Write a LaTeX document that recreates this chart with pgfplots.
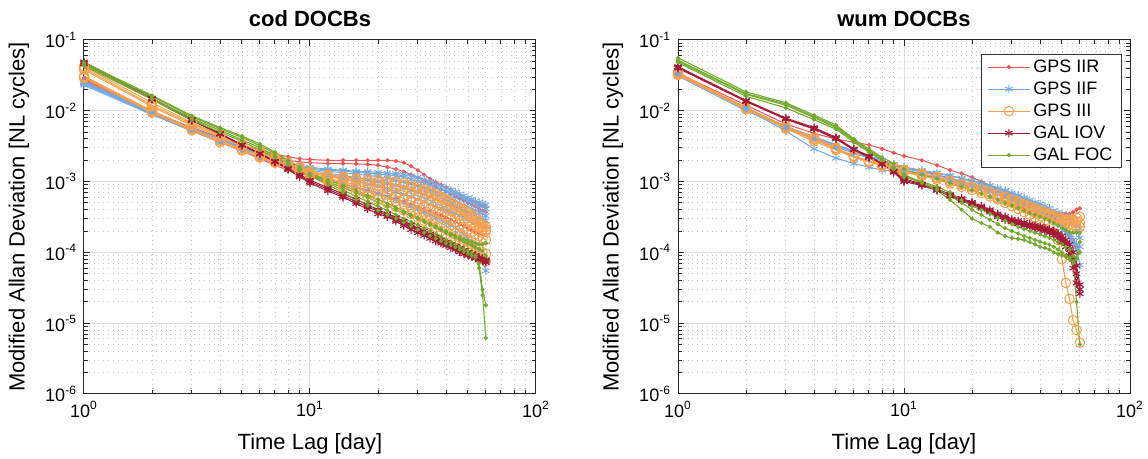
\documentclass[border=0pt]{standalone}
\usepackage{fontspec}
\setmainfont{Liberation Sans}
\usepackage{pgfplots}
\usepackage{pgfplotstable}
\pgfplotsset{compat=1.18}

\definecolor{cIIR}{RGB}{240,85,85}
\definecolor{cIIF}{RGB}{115,170,225}
\definecolor{cIII}{RGB}{250,160,75}
\definecolor{cIOV}{RGB}{165,25,55}
\definecolor{cFOC}{RGB}{115,170,45}

% ---------------- cod DOCBs ----------------
\pgfplotstableread{
x a b c
1 2.9e-2 2.8e-2 2.7e-2
2 9.8e-3 9.5e-3 9.0e-3
3 5.8e-3 5.6e-3 5.2e-3
4 4.2e-3 4.0e-3 3.6e-3
5 3.3e-3 3.1e-3 2.7e-3
6 2.8e-3 2.6e-3 2.1e-3
7 2.45e-3 2.25e-3 1.7e-3
8 2.25e-3 2.0e-3 1.45e-3
9 2.1e-3 1.9e-3 1.3e-3
10 2.05e-3 1.85e-3 1.2e-3
12 2.0e-3 1.8e-3 1.05e-3
14 2.0e-3 1.8e-3 9.3e-4
16 2.0e-3 1.78e-3 8.3e-4
18 2.0e-3 1.75e-3 7.5e-4
20 2.0e-3 1.7e-3 6.8e-4
22 2.0e-3 1.6e-3 6.2e-4
24 1.95e-3 1.5e-3 5.7e-4
26 1.85e-3 1.38e-3 5.2e-4
28 1.65e-3 1.25e-3 4.8e-4
30 1.45e-3 1.13e-3 4.4e-4
32 1.25e-3 1.02e-3 4.1e-4
34 1.1e-3 9.3e-4 3.8e-4
36 9.8e-4 8.5e-4 3.5e-4
38 9.0e-4 7.8e-4 3.3e-4
40 8.3e-4 7.2e-4 3.1e-4
42 7.7e-4 6.7e-4 2.9e-4
44 7.1e-4 6.2e-4 2.7e-4
46 6.6e-4 5.8e-4 2.5e-4
48 6.1e-4 5.4e-4 2.35e-4
50 5.7e-4 5.0e-4 2.2e-4
52 5.3e-4 4.7e-4 2.05e-4
54 5.0e-4 4.4e-4 1.95e-4
56 4.7e-4 4.1e-4 1.85e-4
58 4.5e-4 3.9e-4 1.8e-4
60 4.3e-4 3.7e-4 1.75e-4
}\codIIR

\pgfplotstableread{
x a b c d e f
1 2.5e-2 2.4e-2 2.6e-2 2.3e-2 2.45e-2 2.55e-2
2 9.3e-3 9.0e-3 9.6e-3 8.8e-3 9.1e-3 9.4e-3
3 5.6e-3 5.4e-3 5.7e-3 5.2e-3 5.5e-3 5.6e-3
4 4.0e-3 3.8e-3 4.0e-3 3.6e-3 3.9e-3 3.9e-3
5 3.1e-3 2.9e-3 3.0e-3 2.7e-3 3.0e-3 3.0e-3
6 2.5e-3 2.35e-3 2.4e-3 2.15e-3 2.45e-3 2.4e-3
7 2.1e-3 2.0e-3 2.0e-3 1.8e-3 2.05e-3 2.0e-3
8 1.85e-3 1.75e-3 1.7e-3 1.55e-3 1.8e-3 1.75e-3
9 1.7e-3 1.6e-3 1.5e-3 1.38e-3 1.65e-3 1.6e-3
10 1.6e-3 1.5e-3 1.38e-3 1.25e-3 1.55e-3 1.45e-3
12 1.5e-3 1.4e-3 1.22e-3 1.08e-3 1.45e-3 1.32e-3
14 1.45e-3 1.33e-3 1.1e-3 9.5e-4 1.4e-3 1.22e-3
16 1.4e-3 1.28e-3 1.0e-3 8.4e-4 1.36e-3 1.14e-3
18 1.38e-3 1.22e-3 9.2e-4 7.5e-4 1.32e-3 1.07e-3
20 1.35e-3 1.17e-3 8.5e-4 6.8e-4 1.28e-3 1.0e-3
22 1.32e-3 1.12e-3 7.8e-4 6.1e-4 1.24e-3 9.4e-4
24 1.3e-3 1.06e-3 7.2e-4 5.5e-4 1.2e-3 8.8e-4
26 1.26e-3 1.0e-3 6.6e-4 5.0e-4 1.15e-3 8.2e-4
28 1.2e-3 9.4e-4 6.1e-4 4.5e-4 1.08e-3 7.6e-4
30 1.15e-3 8.8e-4 5.6e-4 4.1e-4 1.01e-3 7.1e-4
32 1.08e-3 8.2e-4 5.2e-4 3.7e-4 9.5e-4 6.6e-4
34 1.0e-3 7.6e-4 4.8e-4 3.4e-4 8.9e-4 6.1e-4
36 9.3e-4 7.1e-4 4.5e-4 3.1e-4 8.3e-4 5.7e-4
38 8.7e-4 6.6e-4 4.2e-4 2.85e-4 7.8e-4 5.3e-4
40 8.1e-4 6.1e-4 3.9e-4 2.6e-4 7.3e-4 5.0e-4
42 7.6e-4 5.7e-4 3.7e-4 2.4e-4 6.9e-4 4.7e-4
44 7.1e-4 5.3e-4 3.5e-4 2.2e-4 6.5e-4 4.4e-4
46 6.7e-4 5.0e-4 3.3e-4 2.0e-4 6.1e-4 4.1e-4
48 6.3e-4 4.7e-4 3.1e-4 1.8e-4 5.8e-4 3.9e-4
50 5.9e-4 4.4e-4 2.95e-4 1.6e-4 5.5e-4 3.7e-4
52 5.6e-4 4.1e-4 2.8e-4 1.4e-4 5.2e-4 3.5e-4
54 5.3e-4 3.9e-4 2.65e-4 1.2e-4 4.9e-4 3.3e-4
56 5.1e-4 3.7e-4 2.5e-4 1.0e-4 4.6e-4 3.1e-4
58 4.9e-4 3.5e-4 2.4e-4 7.5e-5 4.4e-4 2.95e-4
60 4.7e-4 3.3e-4 2.3e-4 5.5e-5 4.1e-4 2.8e-4
}\codIIF

\pgfplotstableread{
x a b c d e f
1 4.0e-2 3.0e-2 3.1e-2 4.2e-2 3.8e-2 2.9e-2
2 1.2e-2 9.6e-3 1.0e-2 1.3e-2 1.15e-2 9.4e-3
3 6.5e-3 5.4e-3 5.6e-3 6.8e-3 6.2e-3 5.3e-3
4 4.5e-3 3.6e-3 3.8e-3 4.6e-3 4.3e-3 3.6e-3
5 3.4e-3 2.8e-3 2.9e-3 3.3e-3 3.2e-3 2.75e-3
6 2.7e-3 2.2e-3 2.3e-3 2.5e-3 2.55e-3 2.2e-3
7 2.2e-3 1.85e-3 1.9e-3 2.0e-3 2.1e-3 1.85e-3
8 1.85e-3 1.6e-3 1.6e-3 1.65e-3 1.8e-3 1.6e-3
9 1.6e-3 1.45e-3 1.4e-3 1.4e-3 1.55e-3 1.42e-3
10 1.4e-3 1.32e-3 1.25e-3 1.2e-3 1.38e-3 1.3e-3
12 1.25e-3 1.18e-3 1.05e-3 9.8e-4 1.22e-3 1.12e-3
14 1.18e-3 1.08e-3 9.2e-4 8.3e-4 1.13e-3 1.0e-3
16 1.12e-3 1.0e-3 8.1e-4 7.1e-4 1.07e-3 9.0e-4
18 1.08e-3 9.4e-4 7.2e-4 6.2e-4 1.02e-3 8.2e-4
20 1.05e-3 8.8e-4 6.5e-4 5.5e-4 9.8e-4 7.5e-4
22 1.03e-3 8.3e-4 5.9e-4 4.9e-4 9.5e-4 6.9e-4
24 1.0e-3 7.8e-4 5.3e-4 4.4e-4 9.2e-4 6.3e-4
26 9.6e-4 7.3e-4 4.8e-4 3.9e-4 8.8e-4 5.8e-4
28 9.1e-4 6.8e-4 4.3e-4 3.5e-4 8.3e-4 5.3e-4
30 8.5e-4 6.3e-4 3.9e-4 3.1e-4 7.8e-4 4.9e-4
32 7.9e-4 5.8e-4 3.5e-4 2.8e-4 7.3e-4 4.5e-4
34 7.3e-4 5.4e-4 3.2e-4 2.5e-4 6.8e-4 4.1e-4
36 6.7e-4 5.0e-4 2.9e-4 2.25e-4 6.3e-4 3.8e-4
38 6.1e-4 4.6e-4 2.6e-4 2.0e-4 5.8e-4 3.5e-4
40 5.6e-4 4.2e-4 2.35e-4 1.8e-4 5.4e-4 3.2e-4
42 5.1e-4 3.9e-4 2.1e-4 1.65e-4 5.0e-4 2.95e-4
44 4.6e-4 3.6e-4 1.9e-4 1.5e-4 4.6e-4 2.7e-4
46 4.2e-4 3.3e-4 1.75e-4 1.38e-4 4.3e-4 2.5e-4
48 3.8e-4 3.0e-4 1.6e-4 1.27e-4 4.0e-4 2.3e-4
50 3.4e-4 2.8e-4 1.45e-4 1.18e-4 3.7e-4 2.1e-4
52 3.1e-4 2.6e-4 1.3e-4 1.1e-4 3.4e-4 1.95e-4
54 2.8e-4 2.4e-4 1.2e-4 1.02e-4 3.1e-4 1.8e-4
56 2.5e-4 2.25e-4 1.1e-4 9.5e-5 2.8e-4 1.7e-4
58 2.3e-4 2.1e-4 1.0e-4 8.5e-5 2.5e-4 1.6e-4
60 2.1e-4 2.0e-4 9.5e-5 7.5e-5 2.3e-4 1.5e-4
}\codIII

\pgfplotstableread{
x a b c
1 4.9e-2 4.6e-2 4.7e-2
2 1.51e-2 1.45e-2 1.48e-2
3 7.6e-3 7.3e-3 7.4e-3
4 4.8e-3 4.7e-3 4.7e-3
5 3.3e-3 3.3e-3 3.25e-3
6 2.5e-3 2.5e-3 2.45e-3
7 1.9e-3 1.95e-3 1.9e-3
8 1.48e-3 1.55e-3 1.5e-3
9 1.17e-3 1.25e-3 1.2e-3
10 9.5e-4 1.05e-3 1.0e-3
12 7.4e-4 8.2e-4 7.8e-4
14 6.0e-4 6.7e-4 6.3e-4
16 4.9e-4 5.6e-4 5.2e-4
18 4.1e-4 4.7e-4 4.4e-4
20 3.5e-4 4.0e-4 3.8e-4
22 3.2e-4 3.5e-4 3.3e-4
24 2.75e-4 3.1e-4 2.9e-4
26 2.4e-4 2.75e-4 2.55e-4
28 2.1e-4 2.45e-4 2.3e-4
30 1.9e-4 2.2e-4 2.05e-4
32 1.74e-4 2.0e-4 1.85e-4
34 1.58e-4 1.8e-4 1.7e-4
36 1.45e-4 1.65e-4 1.55e-4
38 1.35e-4 1.5e-4 1.42e-4
40 1.26e-4 1.4e-4 1.32e-4
42 1.17e-4 1.3e-4 1.23e-4
44 1.1e-4 1.22e-4 1.15e-4
46 1.02e-4 1.14e-4 1.08e-4
48 9.5e-5 1.07e-4 1.01e-4
50 9.1e-5 1.0e-4 9.5e-5
52 8.7e-5 9.5e-5 9.0e-5
54 8.3e-5 9.0e-5 8.6e-5
56 7.9e-5 8.5e-5 8.2e-5
58 7.6e-5 8.2e-5 7.9e-5
60 7.2e-5 7.8e-5 7.5e-5
}\codIOV

\pgfplotstableread{
x a b c d
1 4.8e-2 4.5e-2 4.3e-2 4.6e-2
2 1.65e-2 1.5e-2 1.45e-2 1.6e-2
3 8.5e-3 7.8e-3 7.4e-3 8.2e-3
4 5.8e-3 5.3e-3 5.0e-3 5.6e-3
5 4.4e-3 3.9e-3 3.7e-3 4.2e-3
6 3.4e-3 3.0e-3 2.8e-3 3.2e-3
7 2.6e-3 2.3e-3 2.2e-3 2.5e-3
8 2.0e-3 1.8e-3 1.75e-3 1.95e-3
9 1.6e-3 1.45e-3 1.45e-3 1.55e-3
10 1.3e-3 1.2e-3 1.22e-3 1.28e-3
12 1.05e-3 9.0e-4 9.5e-4 1.0e-3
14 8.8e-4 7.0e-4 7.6e-4 8.2e-4
16 7.5e-4 5.6e-4 6.2e-4 6.9e-4
18 6.4e-4 4.6e-4 5.2e-4 5.9e-4
20 5.6e-4 3.9e-4 4.5e-4 5.1e-4
22 4.9e-4 3.4e-4 3.9e-4 4.5e-4
24 4.3e-4 3.0e-4 3.4e-4 4.0e-4
26 3.8e-4 2.65e-4 3.0e-4 3.6e-4
28 3.4e-4 2.35e-4 2.7e-4 3.25e-4
30 3.1e-4 2.1e-4 2.45e-4 2.95e-4
32 2.8e-4 1.9e-4 2.2e-4 2.7e-4
34 2.55e-4 1.72e-4 2.0e-4 2.45e-4
36 2.35e-4 1.57e-4 1.8e-4 2.25e-4
38 2.15e-4 1.45e-4 1.65e-4 2.05e-4
40 2.0e-4 1.35e-4 1.52e-4 1.9e-4
42 1.85e-4 1.26e-4 1.4e-4 1.75e-4
44 1.72e-4 1.18e-4 1.3e-4 1.63e-4
46 1.62e-4 1.1e-4 1.2e-4 1.52e-4
48 1.53e-4 1.03e-4 1.12e-4 1.42e-4
50 1.46e-4 9.6e-5 1.05e-4 1.33e-4
52 1.4e-4 9.0e-5 9.8e-5 1.25e-4
54 1.35e-4 8.5e-5 9.0e-5 1.18e-4
56 1.3e-4 6.0e-5 7.0e-5 1.12e-4
58 1.3e-4 2.5e-5 3.0e-5 1.05e-4
60 1.35e-4 6.2e-6 1.8e-5 9.0e-5
}\codFOC

% ---------------- wum DOCBs ----------------
\pgfplotstableread{
x a b
1 3.4e-2 3.3e-2
2 1.2e-2 1.1e-2
3 6.5e-3 6.0e-3
4 4.8e-3 4.3e-3
5 4.0e-3 3.3e-3
6 3.6e-3 2.7e-3
7 3.3e-3 2.3e-3
8 2.9e-3 2.0e-3
9 2.55e-3 1.8e-3
10 2.3e-3 1.6e-3
12 2.0e-3 1.4e-3
14 1.7e-3 1.25e-3
16 1.45e-3 1.12e-3
18 1.3e-3 1.0e-3
20 1.15e-3 9.2e-4
22 1.0e-3 8.4e-4
24 8.8e-4 7.6e-4
26 7.6e-4 6.9e-4
28 6.8e-4 6.3e-4
30 6.2e-4 5.8e-4
32 5.7e-4 5.3e-4
34 5.3e-4 4.9e-4
36 4.9e-4 4.5e-4
38 4.6e-4 4.2e-4
40 4.3e-4 3.9e-4
42 4.1e-4 3.6e-4
44 3.9e-4 3.3e-4
46 3.7e-4 3.0e-4
48 3.6e-4 2.7e-4
50 3.5e-4 2.4e-4
52 3.5e-4 2.1e-4
54 3.5e-4 1.8e-4
56 3.7e-4 1.5e-4
58 4.0e-4 1.2e-4
60 4.2e-4 1.0e-4
}\wumIIR

\pgfplotstableread{
x a b c d
1 3.2e-2 3.3e-2 3.1e-2 3.25e-2
2 1.05e-2 1.1e-2 1.0e-2 1.08e-2
3 5.2e-3 6.0e-3 5.7e-3 5.9e-3
4 2.9e-3 4.3e-3 4.0e-3 4.2e-3
5 2.15e-3 3.3e-3 3.1e-3 3.2e-3
6 1.8e-3 2.7e-3 2.5e-3 2.6e-3
7 1.6e-3 2.3e-3 2.15e-3 2.2e-3
8 1.45e-3 2.0e-3 1.9e-3 1.95e-3
9 1.4e-3 1.75e-3 1.7e-3 1.75e-3
10 1.35e-3 1.6e-3 1.55e-3 1.6e-3
12 1.25e-3 1.4e-3 1.35e-3 1.45e-3
14 1.15e-3 1.3e-3 1.22e-3 1.33e-3
16 1.05e-3 1.2e-3 1.1e-3 1.22e-3
18 9.5e-4 1.1e-3 1.0e-3 1.12e-3
20 8.8e-4 1.0e-3 9.3e-4 1.03e-3
22 8.0e-4 9.2e-4 8.6e-4 9.5e-4
24 7.2e-4 8.5e-4 7.9e-4 8.8e-4
26 6.5e-4 7.8e-4 7.2e-4 8.1e-4
28 5.9e-4 7.2e-4 6.6e-4 7.5e-4
30 5.4e-4 6.6e-4 6.0e-4 6.9e-4
32 5.0e-4 6.1e-4 5.5e-4 6.4e-4
34 4.6e-4 5.6e-4 5.0e-4 5.9e-4
36 4.3e-4 5.2e-4 4.6e-4 5.5e-4
38 4.0e-4 4.8e-4 4.2e-4 5.1e-4
40 3.7e-4 4.4e-4 3.9e-4 4.8e-4
42 3.4e-4 4.1e-4 3.6e-4 4.5e-4
44 3.1e-4 3.8e-4 3.3e-4 4.2e-4
46 2.8e-4 3.5e-4 3.0e-4 3.9e-4
48 2.5e-4 3.3e-4 2.7e-4 3.7e-4
50 2.2e-4 3.1e-4 2.4e-4 3.5e-4
52 1.9e-4 2.9e-4 2.1e-4 3.3e-4
54 1.6e-4 2.7e-4 1.8e-4 3.1e-4
56 1.3e-4 2.5e-4 1.5e-4 2.9e-4
58 1.1e-4 2.0e-4 1.3e-4 2.6e-4
60 6.6e-5 1.6e-4 1.2e-4 2.2e-4
}\wumIIF

\pgfplotstableread{
x a b c d
1 3.5e-2 3.2e-2 3.4e-2 3.3e-2
2 1.1e-2 1.05e-2 1.1e-2 1.08e-2
3 6.0e-3 5.6e-3 5.9e-3 5.8e-3
4 4.2e-3 3.7e-3 4.0e-3 3.9e-3
5 3.0e-3 2.8e-3 2.9e-3 2.9e-3
6 2.3e-3 2.2e-3 2.3e-3 2.25e-3
7 1.95e-3 1.9e-3 1.9e-3 1.92e-3
8 1.75e-3 1.7e-3 1.65e-3 1.72e-3
9 1.6e-3 1.55e-3 1.5e-3 1.57e-3
10 1.45e-3 1.4e-3 1.35e-3 1.43e-3
12 1.3e-3 1.25e-3 1.2e-3 1.28e-3
14 1.15e-3 1.12e-3 1.06e-3 1.14e-3
16 1.0e-3 1.0e-3 9.4e-4 1.02e-3
18 9.0e-4 9.2e-4 8.4e-4 9.3e-4
20 8.2e-4 8.5e-4 7.6e-4 8.5e-4
22 7.4e-4 7.8e-4 6.9e-4 7.8e-4
24 6.6e-4 7.1e-4 6.2e-4 7.2e-4
26 5.9e-4 6.5e-4 5.6e-4 6.6e-4
28 5.4e-4 5.9e-4 5.0e-4 6.1e-4
30 5.0e-4 5.4e-4 4.5e-4 5.6e-4
32 4.6e-4 5.0e-4 4.1e-4 5.2e-4
34 4.3e-4 4.6e-4 3.7e-4 4.8e-4
36 4.0e-4 4.3e-4 3.4e-4 4.5e-4
38 3.8e-4 4.0e-4 3.1e-4 4.2e-4
40 3.6e-4 3.7e-4 2.8e-4 3.9e-4
42 3.4e-4 3.5e-4 2.5e-4 3.7e-4
44 3.25e-4 3.3e-4 2.2e-4 3.5e-4
46 3.1e-4 3.1e-4 1.9e-4 3.3e-4
48 3.0e-4 2.9e-4 1.5e-4 3.15e-4
50 2.9e-4 2.7e-4 8.0e-5 3.0e-4
52 2.8e-4 2.6e-4 3.7e-5 2.9e-4
54 2.8e-4 2.5e-4 2.2e-5 2.85e-4
56 2.9e-4 2.4e-4 1.1e-5 2.8e-4
58 3.1e-4 2.3e-4 8.0e-6 2.7e-4
60 3.2e-4 2.3e-4 5.3e-6 2.6e-4
}\wumIII

\pgfplotstableread{
x a b c
1 4.2e-2 4.0e-2 4.1e-2
2 1.4e-2 1.35e-2 1.38e-2
3 7.9e-3 7.6e-3 7.7e-3
4 5.8e-3 5.5e-3 5.6e-3
5 4.2e-3 4.0e-3 4.1e-3
6 2.9e-3 2.8e-3 2.85e-3
7 2.3e-3 2.2e-3 2.25e-3
8 1.8e-3 1.75e-3 1.78e-3
9 1.35e-3 1.4e-3 1.38e-3
10 1.0e-3 1.1e-3 1.05e-3
12 8.8e-4 9.2e-4 9.0e-4
14 7.5e-4 7.9e-4 7.7e-4
16 6.2e-4 6.6e-4 6.4e-4
18 5.4e-4 5.8e-4 5.6e-4
20 4.8e-4 5.1e-4 4.95e-4
22 4.2e-4 4.5e-4 4.35e-4
24 3.7e-4 4.0e-4 3.85e-4
26 3.2e-4 3.5e-4 3.35e-4
28 2.9e-4 3.2e-4 3.05e-4
30 2.7e-4 2.95e-4 2.8e-4
32 2.55e-4 2.8e-4 2.65e-4
34 2.4e-4 2.65e-4 2.5e-4
36 2.3e-4 2.5e-4 2.4e-4
38 2.2e-4 2.4e-4 2.3e-4
40 2.1e-4 2.3e-4 2.2e-4
42 2.0e-4 2.2e-4 2.1e-4
44 1.9e-4 2.1e-4 2.0e-4
46 1.75e-4 2.0e-4 1.9e-4
48 1.6e-4 1.85e-4 1.75e-4
50 1.4e-4 1.7e-4 1.55e-4
52 1.2e-4 1.5e-4 1.35e-4
54 9.0e-5 1.3e-4 1.1e-4
56 6.0e-5 1.0e-4 8.0e-5
58 3.7e-5 6.5e-5 5.0e-5
60 2.6e-5 3.5e-5 3.0e-5
}\wumIOV

\pgfplotstableread{
x a b c d
1 5.6e-2 4.8e-2 5.0e-2 5.2e-2
2 1.85e-2 1.6e-2 1.7e-2 1.75e-2
3 1.3e-2 1.1e-2 1.2e-2 1.25e-2
4 8.7e-3 7.5e-3 8.0e-3 8.3e-3
5 6.3e-3 5.5e-3 5.8e-3 6.0e-3
6 4.0e-3 3.6e-3 3.8e-3 3.9e-3
7 2.9e-3 2.6e-3 2.7e-3 2.8e-3
8 2.2e-3 2.0e-3 2.0e-3 2.1e-3
9 1.8e-3 1.5e-3 1.5e-3 1.6e-3
10 1.5e-3 1.2e-3 1.15e-3 1.25e-3
12 1.25e-3 9.5e-4 1.0e-3 9.8e-4
14 1.1e-3 7.5e-4 8.5e-4 7.9e-4
16 9.5e-4 5.5e-4 7.0e-4 6.3e-4
18 8.5e-4 4.0e-4 5.5e-4 5.0e-4
20 7.6e-4 3.0e-4 4.5e-4 4.0e-4
22 6.8e-4 2.6e-4 4.0e-4 3.4e-4
24 6.1e-4 2.3e-4 3.5e-4 2.9e-4
26 5.5e-4 1.9e-4 3.1e-4 2.5e-4
28 5.0e-4 1.7e-4 2.8e-4 2.2e-4
30 4.6e-4 1.6e-4 2.5e-4 2.0e-4
32 4.2e-4 1.55e-4 2.3e-4 1.85e-4
34 3.9e-4 1.5e-4 2.15e-4 1.7e-4
36 3.6e-4 1.4e-4 2.0e-4 1.6e-4
38 3.4e-4 1.3e-4 1.9e-4 1.5e-4
40 3.2e-4 1.2e-4 1.8e-4 1.42e-4
42 3.0e-4 1.15e-4 1.7e-4 1.35e-4
44 2.8e-4 1.1e-4 1.6e-4 1.28e-4
46 2.6e-4 1.0e-4 1.5e-4 1.2e-4
48 2.4e-4 9.5e-5 1.4e-4 1.1e-4
50 2.2e-4 9.0e-5 1.3e-4 1.0e-4
52 2.05e-4 8.7e-5 1.2e-4 9.0e-5
54 1.95e-4 8.5e-5 1.1e-4 8.0e-5
56 1.9e-4 7.0e-5 9.0e-5 7.5e-5
58 1.9e-4 2.0e-5 8.0e-5 8.5e-5
60 1.9e-4 5.0e-6 1.4e-4 1.0e-4
}\wumFOC

\pgfplotsset{
  iir/.style={color=cIIR, line width=0.5pt, mark=*, mark size=0.8pt},
  iif/.style={color=cIIF, line width=0.5pt, mark=asterisk, mark size=2.1pt, mark options={line width=0.45pt}},
  iii/.style={color=cIII, line width=0.5pt, mark=o, mark size=2.4pt, mark options={line width=0.5pt}},
  iov/.style={color=cIOV, line width=0.5pt, mark=asterisk, mark size=2.1pt, mark options={line width=0.55pt}},
  foc/.style={color=cFOC, line width=0.55pt, mark=*, mark size=0.75pt},
  docb/.style={
    scale only axis, width=226pt, height=177pt,
    xmin=1, xmax=100, ymin=1e-6, ymax=1e-1,
    xtick={1,10,100},
    xticklabels={10\textsuperscript{0},10\textsuperscript{1},10\textsuperscript{2}},
    minor xtick={2,3,4,5,6,7,8,9,20,30,40,50,60,70,80,90},
    ytick={1e-6,1e-5,1e-4,1e-3,1e-2,1e-1},
    yticklabels={10\textsuperscript{-6},10\textsuperscript{-5},10\textsuperscript{-4},10\textsuperscript{-3},10\textsuperscript{-2},10\textsuperscript{-1}},
    minor ytick={2e-6,3e-6,4e-6,5e-6,6e-6,7e-6,8e-6,9e-6,
                 2e-5,3e-5,4e-5,5e-5,6e-5,7e-5,8e-5,9e-5,
                 2e-4,3e-4,4e-4,5e-4,6e-4,7e-4,8e-4,9e-4,
                 2e-3,3e-3,4e-3,5e-3,6e-3,7e-3,8e-3,9e-3,
                 2e-2,3e-2,4e-2,5e-2,6e-2,7e-2,8e-2,9e-2},
    grid=both,
    major grid style={black!13, line width=0.5pt},
    minor grid style={black!22, dotted, line width=0.45pt},
    axis line style={black!85, line width=0.5pt},
    tick style={black!85, line width=0.5pt},
    tick align=inside,
    major tick length=3pt, minor tick length=1.8pt,
    tick label style={font=\fontsize{9}{10}\selectfont},
    xlabel={Time Lag [day]},
    ylabel={Modified Allan Deviation [NL cycles]},
    label style={font=\fontsize{11}{13}\selectfont},
    xlabel style={at={(axis description cs:0.5,-0.141)}, anchor=center},
    ylabel style={at={(axis description cs:-0.144,0.5)}, anchor=center},
    every axis title/.style={at={(axis description cs:0.5,1)}, anchor=base, yshift=6.5pt,
                 font=\bfseries\fontsize{11}{13}\selectfont},
  },
}

\begin{document}
\begin{tikzpicture}
\useasboundingbox (-42pt,-32.5pt) rectangle (532pt,197pt);

\begin{loglogaxis}[docb, at={(0pt,0pt)}, anchor=south west, title={cod DOCBs}]
\addplot[iir] table[x=x,y=a] {\codIIR};
\addplot[iir] table[x=x,y=b] {\codIIR};
\addplot[iir] table[x=x,y=c] {\codIIR};
\addplot[iif] table[x=x,y=a] {\codIIF};
\addplot[iif] table[x=x,y=b] {\codIIF};
\addplot[iif] table[x=x,y=c] {\codIIF};
\addplot[iif] table[x=x,y=d] {\codIIF};
\addplot[iif] table[x=x,y=e] {\codIIF};
\addplot[iif] table[x=x,y=f] {\codIIF};
\addplot[iii] table[x=x,y=a] {\codIII};
\addplot[iii] table[x=x,y=b] {\codIII};
\addplot[iii] table[x=x,y=c] {\codIII};
\addplot[iii] table[x=x,y=d] {\codIII};
\addplot[iii] table[x=x,y=e] {\codIII};
\addplot[iii] table[x=x,y=f] {\codIII};
\addplot[iov] table[x=x,y=a] {\codIOV};
\addplot[iov] table[x=x,y=b] {\codIOV};
\addplot[iov] table[x=x,y=c] {\codIOV};
\addplot[foc] table[x=x,y=a] {\codFOC};
\addplot[foc] table[x=x,y=b] {\codFOC};
\addplot[foc] table[x=x,y=c] {\codFOC};
\addplot[foc] table[x=x,y=d] {\codFOC};
\end{loglogaxis}

\begin{loglogaxis}[docb, at={(297pt,0pt)}, anchor=south west, title={wum DOCBs},
  legend style={at={(axis description cs:1,1)}, anchor=north east,
    xshift=-4pt, yshift=-7pt, draw=black!80, line width=0.5pt,
    font=\fontsize{9}{10}\selectfont, inner xsep=3pt, inner ysep=0.8pt,
    row sep=0pt, cells={anchor=west},
    nodes={inner sep=1.5pt, text height=6.5pt, text depth=1.5pt}},
  legend image code/.code={
    \draw[mark repeat=2, mark phase=2] plot coordinates {(0pt,0pt) (10.5pt,0pt) (21pt,0pt)};}]
\addplot[iir] table[x=x,y=a] {\wumIIR};
\addlegendentry{GPS IIR}
\addplot[iir, forget plot] table[x=x,y=b] {\wumIIR};
\addplot[iif] table[x=x,y=a] {\wumIIF};
\addlegendentry{GPS IIF}
\addplot[iif, forget plot] table[x=x,y=b] {\wumIIF};
\addplot[iif, forget plot] table[x=x,y=c] {\wumIIF};
\addplot[iif, forget plot] table[x=x,y=d] {\wumIIF};
\addplot[iii] table[x=x,y=a] {\wumIII};
\addlegendentry{GPS III}
\addplot[iii, forget plot] table[x=x,y=b] {\wumIII};
\addplot[iii, forget plot] table[x=x,y=c] {\wumIII};
\addplot[iii, forget plot] table[x=x,y=d] {\wumIII};
\addplot[iov] table[x=x,y=a] {\wumIOV};
\addlegendentry{GAL IOV}
\addplot[iov, forget plot] table[x=x,y=b] {\wumIOV};
\addplot[iov, forget plot] table[x=x,y=c] {\wumIOV};
\addplot[foc] table[x=x,y=a] {\wumFOC};
\addlegendentry{GAL FOC}
\addplot[foc, forget plot] table[x=x,y=b] {\wumFOC};
\addplot[foc, forget plot] table[x=x,y=c] {\wumFOC};
\addplot[foc, forget plot] table[x=x,y=d] {\wumFOC};
\end{loglogaxis}
\end{tikzpicture}
\end{document}
